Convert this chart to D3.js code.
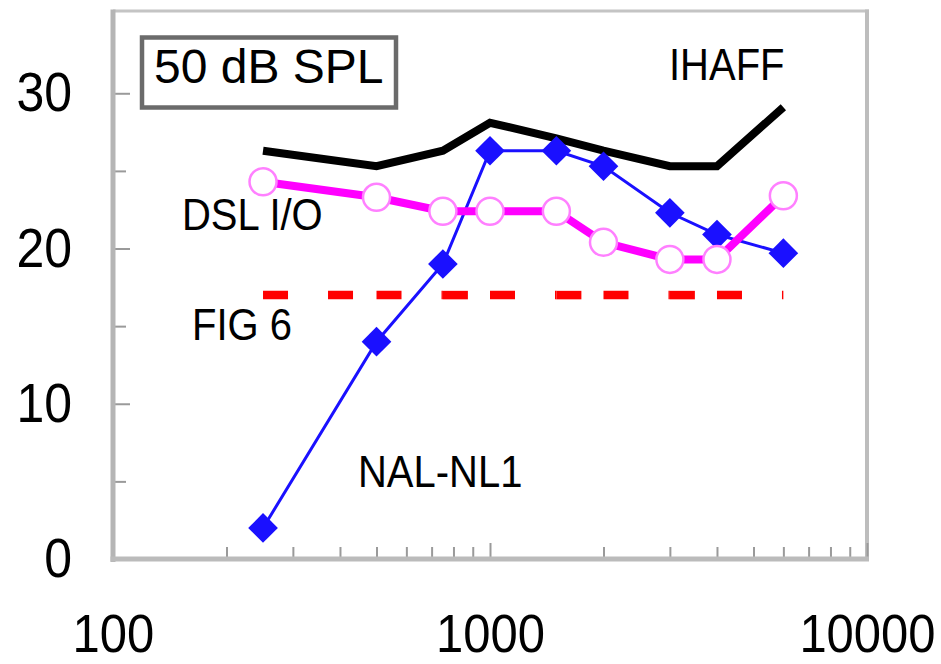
<!DOCTYPE html>
<html>
<head>
<meta charset="utf-8">
<script src="https://cdn.jsdelivr.net/npm/d3@7/dist/d3.min.js"></script>
<style>
  html, body { margin: 0; padding: 0; background: #fff; }
  svg { display: block; font-family: "Liberation Sans", Arial, sans-serif; }
</style>
</head>
<body>
<svg id="chart" width="941" height="664"></svg>
<script>
// Frequencies (Hz) at which each prescription target is given
const frequencies = [250, 500, 750, 1000, 1500, 2000, 3000, 4000, 6000];
// Insertion gain (dB) for a 50 dB SPL input
const ihaff  = [26.3, 25.3, 26.3, 28.1, 27.1, 26.3, 25.3, 25.3, 29.1];
const dslIO  = [24.3, 23.3, 22.4, 22.4, 22.4, 20.4, 19.3, 19.3, 23.4];
const fig6   = [17, 17, 17, 17, 17, 17, 17, 17, 17];
const nalNL1 = [2.0, 14.0, 19.0, 26.3, 26.3, 25.3, 22.3, 20.9, 19.7];
// Axis ticks
const xTickLabels = [100, 1000, 10000];
const xMinorTicks = [200, 300, 400, 500, 600, 700, 800, 900, 2000, 3000, 4000, 5000, 6000, 7000, 8000, 9000];
const yTickLabels = [0, 10, 20, 30];
const yMinorTicks = [5, 15, 25];
const titleText = "50 dB SPL";
const seriesNames = ["IHAFF", "DSL I/O", "FIG 6", "NAL-NL1"];

const svg = d3.select("#chart");
const plotLeft = 113, plotRight = 867, plotTop = 11, plotBottom = 559;

const x = d3.scaleLog().domain([100, 10000]).range([plotLeft, plotRight]);
const y = d3.scaleLinear().domain([0, 35.3]).range([plotBottom, plotTop]);

const pts = vals => frequencies.map((f, i) => ({ f, v: vals[i] }));
const line = d3.line().x(d => x(d.f)).y(d => y(d.v));

// ---- frame ----
svg.append("line").attr("x1", plotLeft).attr("x2", plotRight + 2).attr("y1", plotTop).attr("y2", plotTop)
  .attr("stroke", "#c4c4c4").attr("stroke-width", 3);
svg.append("line").attr("x1", plotRight).attr("x2", plotRight).attr("y1", plotTop - 1.5).attr("y2", plotBottom)
  .attr("stroke", "#bdbdbd").attr("stroke-width", 4);

// ---- inward tick marks ----
const yTicksMajor = svg.append("g").attr("transform", `translate(${plotLeft},0)`)
  .call(d3.axisRight(y).tickValues(yTickLabels).tickSize(17).tickFormat(""));
const yTicksMinor = svg.append("g").attr("transform", `translate(${plotLeft},0)`)
  .call(d3.axisRight(y).tickValues(yMinorTicks).tickSize(13).tickFormat(""));
const xTicksMajor = svg.append("g").attr("transform", `translate(0,${plotBottom})`)
  .call(d3.axisTop(x).tickValues(xTickLabels).tickSize(16).tickFormat(""));
const xTicksMinor = svg.append("g").attr("transform", `translate(0,${plotBottom})`)
  .call(d3.axisTop(x).tickValues(xMinorTicks).tickSize(12).tickFormat(""));
[yTicksMajor, yTicksMinor, xTicksMajor, xTicksMinor].forEach(g => {
  g.select(".domain").remove();
  g.selectAll(".tick line").attr("stroke", "#9a9a9a").attr("stroke-width", 2);
});

// axis lines
svg.append("line").attr("x1", plotLeft).attr("x2", plotLeft).attr("y1", plotTop - 1.5).attr("y2", plotBottom + 3)
  .attr("stroke", "#b5b5b5").attr("stroke-width", 5);
svg.append("line").attr("x1", plotLeft - 2.5).attr("x2", plotRight + 2).attr("y1", plotBottom).attr("y2", plotBottom)
  .attr("stroke", "#bbbbbb").attr("stroke-width", 5);

// ---- tick labels ----
const yLabels = svg.append("g").attr("transform", `translate(${plotLeft},0)`)
  .call(d3.axisLeft(y).tickValues(yTickLabels).tickSize(0).tickPadding(41).tickFormat(d3.format("d")));
yLabels.select(".domain").remove();
yLabels.selectAll("text").attr("font-size", 50).attr("fill", "#000")
  .attr("font-family", "Liberation Sans, Arial, sans-serif")
  .attr("transform", "scale(1,1.1)");

const xLabels = svg.append("g").attr("transform", `translate(0,${plotBottom})`)
  .call(d3.axisBottom(x).tickValues(xTickLabels).tickSize(0).tickPadding(49.7).tickFormat(d3.format("d")));
xLabels.select(".domain").remove();
xLabels.selectAll("text").attr("font-size", 49).attr("fill", "#000")
  .attr("font-family", "Liberation Sans, Arial, sans-serif")
  .attr("transform", "scale(1,1.1)");

// ---- IHAFF: thick black line ----
svg.append("path").datum(pts(ihaff)).attr("d", line)
  .attr("fill", "none").attr("stroke", "#000").attr("stroke-width", 8)
  .attr("stroke-linejoin", "miter");

// ---- NAL-NL1: blue line with diamonds ----
const blue = "#1a10ff";
svg.append("path").datum(pts(nalNL1)).attr("d", line)
  .attr("fill", "none").attr("stroke", blue).attr("stroke-width", 3);
const diamond = d3.symbol(d3.symbolSquare, 440);
svg.append("g").selectAll("path").data(pts(nalNL1)).join("path")
  .attr("d", diamond)
  .attr("transform", d => `translate(${x(d.f)},${y(d.v)}) rotate(45)`)
  .attr("fill", blue);

// ---- DSL I/O: thick magenta line with open circles ----
svg.append("path").datum(pts(dslIO)).attr("d", line)
  .attr("fill", "none").attr("stroke", "#ff00ff").attr("stroke-width", 8);
svg.append("g").selectAll("circle").data(pts(dslIO)).join("circle")
  .attr("cx", d => x(d.f)).attr("cy", d => y(d.v)).attr("r", 13.5)
  .attr("fill", "#fff").attr("stroke", "#ff80ff").attr("stroke-width", 2.5);

// ---- FIG 6: red dashed line, dash pattern restarts at each point ----
svg.append("g").selectAll("line").data(d3.pairs(pts(fig6))).join("line")
  .attr("x1", d => x(d[0].f)).attr("y1", d => y(d[0].v))
  .attr("x2", d => x(d[1].f)).attr("y2", d => y(d[1].v))
  .attr("stroke", "#ff0000").attr("stroke-width", 8.5)
  .attr("stroke-dasharray", "25,40").attr("stroke-linecap", "butt");

// ---- title box ----
svg.append("rect").attr("x", 142).attr("y", 37.5).attr("width", 254).attr("height", 70)
  .attr("fill", "#fff").attr("stroke", "#6b6b6b").attr("stroke-width", 4.5);
svg.append("text").attr("x", 154).attr("y", 83).attr("font-size", 48).attr("fill", "#000")
  .text(titleText);

// ---- series labels ----
const labelPos = [[669, 80], [182, 230], [192, 340], [358, 487]];
svg.append("g").selectAll("text").data(seriesNames).join("text")
  .attr("transform", (d, i) => `translate(${labelPos[i][0]},${labelPos[i][1]}) scale(1,1.13)`)
  .attr("font-size", 40).attr("fill", "#000")
  .text(d => d);
</script>
</body>
</html>
